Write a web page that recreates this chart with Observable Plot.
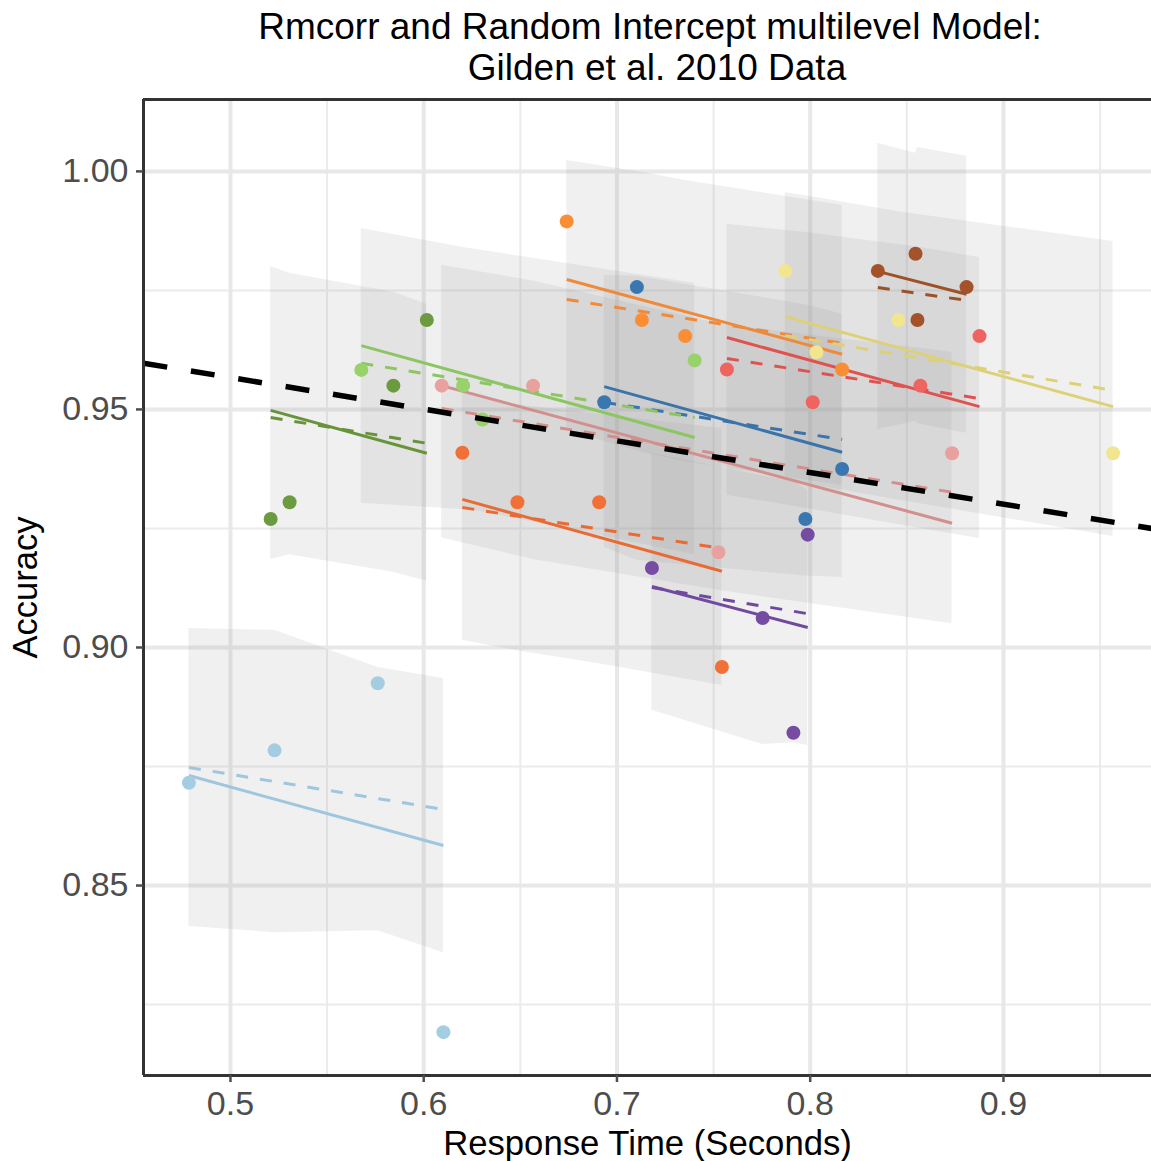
<!DOCTYPE html>
<html><head><meta charset="utf-8">
<script src="https://cdn.jsdelivr.net/npm/d3@7"></script>
<script src="https://cdn.jsdelivr.net/npm/@observablehq/plot@0.6"></script>
<style>
body{margin:0;background:#fff;}
#title{width:1151px;height:95px;position:relative;font-family:"Liberation Sans",Arial,Helvetica,sans-serif;font-size:37px;color:#000;}
#title div{position:absolute;width:1008px;text-align:center;line-height:37px;white-space:nowrap;}
#chart svg{display:block;}
</style></head><body>
<div id="title"><div style="top:8px;left:146px">Rmcorr and Random Intercept multilevel Model:</div><div style="top:49px;left:153px">Gilden et al. 2010 Data</div></div>
<div id="chart"></div>
<script>
// ---- data ----
const subjects = ["1","2","3","4","5","6","7","8","9","10","11"];
const pointColors = ["#a4cde2","#3a77b0","#98d26b","#6c9a3f","#e9a19f","#ef6461","#f07037","#fa8e35","#754ca2","#f1e68f","#a3522a"];
const lineColors  = ["#9ec6de","#3a74ab","#8cc662","#679339","#d28f8d","#e0524f","#ea6a33","#ef8a3a","#704a9e","#ddd178","#9e5027"];

// observations (sorted by RT within subject)
const obsSubject = [
  "1","1","1","1", "2","2","2","2", "3","3","3","3", "4","4","4","4",
  "5","5","5","5", "6","6","6","6", "7","7","7","7", "8","8","8","8",
  "9","9","9","9", "10","10","10","10", "11","11","11","11"];
const obsRT = [
  0.4785,0.5228,0.5762,0.6102, 0.6934,0.7103,0.7975,0.8165, 0.5677,0.6204,0.6304,0.7402, 0.5208,0.5306,0.5843,0.6016,
  0.6093,0.6566,0.7525,0.8734, 0.7569,0.8013,0.8570,0.8876, 0.6200,0.6485,0.6908,0.7543, 0.6740,0.7129,0.7353,0.8165,
  0.7181,0.7754,0.7913,0.7987, 0.7871,0.8032,0.8456,0.9567, 0.8350,0.8545,0.8555,0.8809];
const obsAcc = [
  0.8716,0.8784,0.8925,0.8192, 0.9515,0.9757,0.9270,0.9375, 0.9583,0.9550,0.9479,0.9603, 0.9270,0.9305,0.9550,0.9688,
  0.9550,0.9550,0.9200,0.9408, 0.9584,0.9515,0.9550,0.9654, 0.9409,0.9305,0.9305,0.8959, 0.9895,0.9688,0.9654,0.9584,
  0.9167,0.9062,0.8821,0.9237, 0.9791,0.9620,0.9688,0.9408, 0.9791,0.9827,0.9688,0.9757];
// multilevel-model prediction band at each observation
const bandLo = [
  0.8414,0.8401,0.8405,0.8359, 0.9210,0.9183,0.9150,0.9147, 0.9303,0.9290,0.9285,0.9195, 0.9185,0.9195,0.9158,0.9139,
  0.9230,0.9185,0.9120,0.9050, 0.9320,0.9290,0.9250,0.9229, 0.9015,0.8993,0.8966,0.8920, 0.9456,0.9410,0.9390,0.9340,
  0.8868,0.8796,0.8800,0.8794, 0.9355,0.9340,0.9310,0.9233, 0.9458,0.9475,0.9470,0.9450];
const bandHi = [
  0.9040,0.9036,0.8958,0.8935, 0.9782,0.9780,0.9720,0.9700, 0.9880,0.9840,0.9834,0.9765, 0.9800,0.9786,0.9746,0.9721,
  0.9803,0.9770,0.9680,0.9620, 0.9889,0.9870,0.9840,0.9819, 0.9536,0.9510,0.9490,0.9460, 1.0023,0.9998,0.9981,0.9929,
  0.9408,0.9360,0.9350,0.9330, 0.9955,0.9945,0.9915,0.9853, 1.0059,1.0038,1.0050,1.0032];

// per-subject fitted lines (accuracy at the subject's min and max RT)
const rmcorrStart = [0.8731,0.9548,0.9634,0.9498,0.9550,0.9651,0.9311,0.9773,0.9128,0.9695,0.9790];
const rmcorrEnd   = [0.8584,0.9410,0.9441,0.9408,0.9261,0.9506,0.9160,0.9616,0.9042,0.9506,0.9742];
const mlmStart    = [0.8748,0.9515,0.9597,0.9483,0.9502,0.9607,0.9294,0.9731,0.9126,0.9655,0.9756];
const mlmEnd      = [0.8660,0.9437,0.9483,0.9429,0.9326,0.9523,0.9208,0.9639,0.9071,0.9540,0.9729];

// fixed-effect line of the multilevel model
const fixedRT  = [0.455, 0.9766];
const fixedAcc = [0.9597, 0.9250];

const xTicks = [0.5,0.6,0.7,0.8,0.9];
const xMinor = [0.55,0.65,0.75,0.85,0.95];
const yTicks = [0.85,0.90,0.95,1.00];
const yMinor = [0.825,0.875,0.925,0.975];
const xDomain = [0.455, 0.9766];
const yDomain = [0.8101, 1.0151];

// ---- build tables ----
const obs = obsRT.map((rt,i)=>{
  const s = obsSubject[i], k = subjects.indexOf(s);
  return {subject:s, rt, acc:obsAcc[i], lo:bandLo[i], hi:bandHi[i], color:pointColors[k]};
});
const fits = subjects.map((s,k)=>{
  const ext = d3.extent(obs.filter(d=>d.subject===s), d=>d.rt);
  return {subject:s, rt0:ext[0], rt1:ext[1], r0:rmcorrStart[k], r1:rmcorrEnd[k], m0:mlmStart[k], m1:mlmEnd[k], color:lineColors[k]};
});
const fixed = fixedRT.map((rt,i)=>({rt, acc:fixedAcc[i]}));

const font = '"Liberation Sans", Arial, Helvetica, sans-serif';
const chart = Plot.plot({
  width:1151, height:1066,
  marginLeft:143, marginRight:0, marginTop:4, marginBottom:86,
  x:{domain:xDomain},
  y:{domain:yDomain},
  color:{type:"identity"},
  style:{fontFamily:font, background:"white", overflow:"visible"},
  marks:[
    Plot.ruleX(xMinor,{stroke:"#ebebeb", strokeWidth:2}),
    Plot.ruleY(yMinor,{stroke:"#ebebeb", strokeWidth:2}),
    Plot.ruleX(xTicks,{stroke:"#e8e8e8", strokeWidth:4}),
    Plot.ruleY(yTicks,{stroke:"#e8e8e8", strokeWidth:4}),
    Plot.areaY(obs,{x:"rt", y1:"lo", y2:"hi", z:"subject", fill:"#999999", fillOpacity:0.15, curve:"linear"}),
    Plot.link(fits,{x1:"rt0", y1:"m0", x2:"rt1", y2:"m1", stroke:"color", strokeWidth:3, strokeDasharray:"12,12", strokeLinecap:"butt"}),
    Plot.link(fits,{x1:"rt0", y1:"r0", x2:"rt1", y2:"r1", stroke:"color", strokeWidth:3, strokeLinecap:"butt"}),
    Plot.dot(obs,{x:"rt", y:"acc", r:7, fill:"color", stroke:null}),
    Plot.line(fixed,{x:"rt", y:"acc", stroke:"black", strokeWidth:5.5, strokeDasharray:"24,24", strokeLinecap:"butt"}),
    Plot.ruleX([xDomain[0]],{stroke:"#333333", strokeWidth:3}),
    Plot.ruleY(yDomain,{stroke:"#333333", strokeWidth:3}),
    Plot.axisX(xTicks,{tickSize:7, tickPadding:8, tickFormat:d3.format(".1f"), fontSize:34, color:"#4d4d4d", strokeWidth:2.5, label:null}),
    Plot.axisY(yTicks,{tickSize:7, tickPadding:8, tickFormat:d3.format(".2f"), fontSize:34, color:"#4d4d4d", strokeWidth:2.5, label:null}),
    Plot.text(["Response Time (Seconds)"],{frameAnchor:"bottom", dy:68, fontSize:34.7, fill:"black", lineAnchor:"middle", textAnchor:"middle"}),
    Plot.text(["Accuracy"],{frameAnchor:"left", dx:-118, rotate:-90, fontSize:34.5, fill:"black", lineAnchor:"middle", textAnchor:"middle"})
  ]
});
document.getElementById("chart").appendChild(chart);
</script>
</body></html>
